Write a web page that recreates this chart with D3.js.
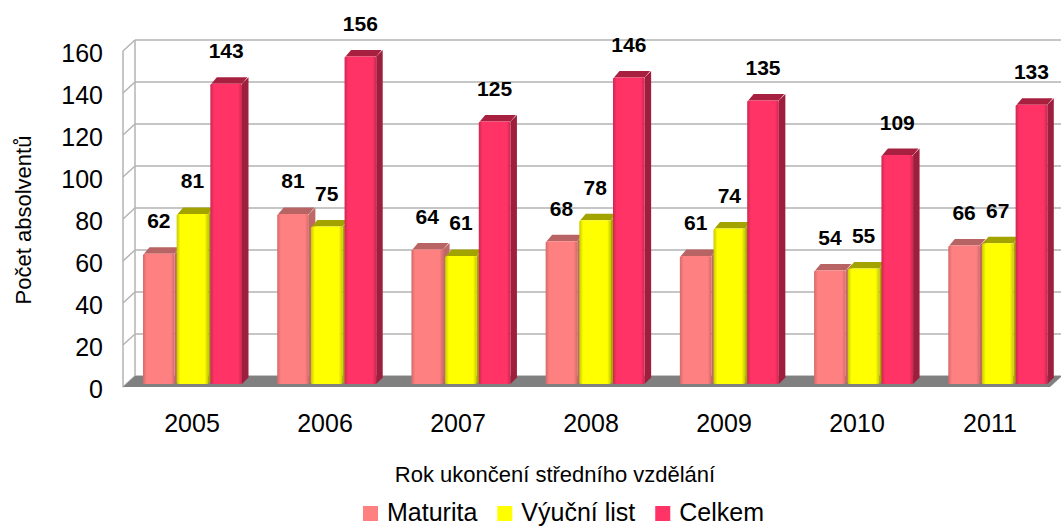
<!DOCTYPE html>
<html><head><meta charset="utf-8">
<script src="https://cdn.jsdelivr.net/npm/d3@7/dist/d3.min.js"></script>
<style>body{margin:0;background:#fff}svg{display:block;font-family:"Liberation Sans",Arial,sans-serif}</style>
</head><body><svg id="c" width="1061" height="528"></svg>
<script>
const years = ["2005","2006","2007","2008","2009","2010","2011"];
const seriesNames = ["Maturita","Výuční list","Celkem"];
const maturita = [62,81,64,68,61,54,66];
const vyucni = [81,75,61,78,74,55,67];
const celkem = [143,156,125,146,135,109,133];
const yTicks = [0,20,40,60,80,100,120,140,160];

const colors = ["#FF8080","#FFFF00","#FF3366"];
const capColors = ["#B86464","#A3A300","#A8203F"];
const sideColors = ["#C06868","#A8A800","#9E1F3D"];
const edgeColors = ["#D46A6A","#C8C800","#CC2850"];
const values = [maturita, vyucni, celkem];

const svg = d3.select("#c");
const DX = 12, DY = -11;
const BX = 3, BY = -3;
const BD = 6.5;

const y = d3.scaleLinear().domain([0,160]).range([387,51]);
const xFront = d3.scaleBand().domain(years).range([125.5,1056.5]);
const xBar = d3.scaleBand().domain(years).range([125.5,1065]);
const xSub = d3.scaleBand().domain(seriesNames).range([17.5,116.5]).paddingInner(0.06);

const defs = svg.append("defs");
colors.forEach((c,i)=>{
  const g = defs.append("linearGradient").attr("id","g"+i).attr("x1","0").attr("x2","1").attr("y1","0").attr("y2","0");
  g.append("stop").attr("offset","0").attr("stop-color",edgeColors[i]);
  g.append("stop").attr("offset","0.12").attr("stop-color",c);
  g.append("stop").attr("offset","0.88").attr("stop-color",c);
  g.append("stop").attr("offset","1").attr("stop-color",edgeColors[i]);
});

const grid = "#B3B3B3";
const x0 = 123, xRightBack = 1075;
yTicks.forEach(t=>{
  svg.append("line").attr("x1",x0+DX).attr("x2",xRightBack).attr("y1",y(t)+DY).attr("y2",y(t)+DY).attr("stroke",grid).attr("stroke-width",1.5);
  svg.append("line").attr("x1",x0).attr("x2",x0+DX).attr("y1",y(t)).attr("y2",y(t)+DY).attr("stroke",grid).attr("stroke-width",1.5);
});
svg.append("line").attr("x1",x0+DX).attr("x2",x0+DX).attr("y1",y(0)+DY).attr("y2",y(160)+DY).attr("stroke",grid).attr("stroke-width",1.5);
svg.append("line").attr("x1",x0).attr("x2",x0).attr("y1",y(0)).attr("y2",y(160)).attr("stroke",grid).attr("stroke-width",1.5);

svg.append("polygon").attr("points",[[x0,y(0)],[1050,y(0)],[1050+DX,y(0)+DY],[x0+DX,y(0)+DY]].map(p=>p.join(",")).join(" ")).attr("fill","#808080");

years.forEach((yr,j)=>{
  seriesNames.forEach((s,i)=>{
    const v = values[i][j];
    const bx = xBar(yr)+xSub(s)+BX-3;
    const bw = xSub.bandwidth();
    const top = y(v)+BY, bot = y(0)+BY;
    const g = svg.append("g");
    g.append("polygon").attr("points",[[bx+bw,top],[bx+bw+BD,top-BD],[bx+bw+BD,bot-BD],[bx+bw,bot]].map(p=>p.join(",")).join(" ")).attr("fill",sideColors[i]);
    g.append("polygon").attr("points",[[bx+1,top],[bx+BD,top-BD],[bx+bw+BD-1,top-BD],[bx+bw,top]].map(p=>p.join(",")).join(" ")).attr("fill",capColors[i]);
    g.append("rect").attr("x",bx).attr("y",top).attr("width",bw).attr("height",bot-top).attr("fill","url(#g"+i+")").attr("rx",1.5);
    svg.append("text").attr("x",bx+bw/2).attr("y",top-33).attr("dominant-baseline","central").attr("text-anchor","middle")
      .attr("font-size",21).attr("font-weight","bold").attr("fill","#000").text(v);
  });
});

yTicks.forEach(t=>{
  svg.append("text").attr("x",103).attr("y",y(t)+2).attr("text-anchor","end").attr("dominant-baseline","central").attr("font-size",25).text(t);
});
years.forEach(yr=>{
  svg.append("text").attr("x",xFront(yr)+xFront.bandwidth()/2).attr("y",423).attr("text-anchor","middle").attr("dominant-baseline","central").attr("font-size",25).text(yr);
});
svg.append("text").attr("x",555).attr("y",474).attr("text-anchor","middle").attr("dominant-baseline","central").attr("font-size",22).text("Rok ukončení středního vzdělání");
svg.append("text").attr("transform","translate(23,220) rotate(-90)").attr("text-anchor","middle").attr("dominant-baseline","central").attr("font-size",22).text("Počet absolventů");

const leg = svg.append("g");
let lx = 363;
seriesNames.forEach((s,i)=>{
  leg.append("rect").attr("x",lx).attr("y",506).attr("width",15).attr("height",15).attr("fill",colors[i]);
  const t = leg.append("text").attr("x",lx+24).attr("y",521).attr("font-size",25).text(s);
  lx += 24 + t.node().getComputedTextLength() + 20;
});
</script></body></html>
